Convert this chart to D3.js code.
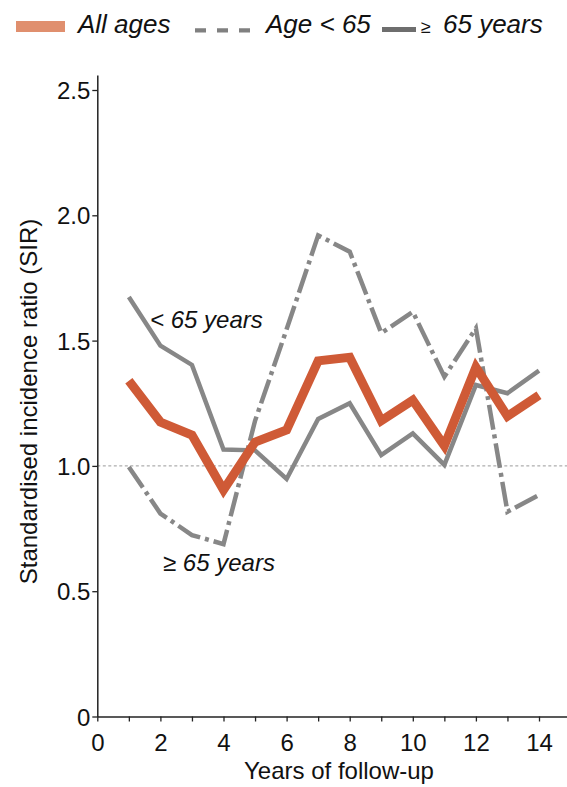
<!DOCTYPE html>
<html>
<head>
<meta charset="utf-8">
<script src="https://cdn.jsdelivr.net/npm/d3@7"></script>
<style>
  html, body { margin: 0; padding: 0; background: #fff; }
  svg { display: block; font-family: "Liberation Sans", Arial, sans-serif; }
</style>
</head>
<body>
<svg id="chart" width="567" height="787"></svg>
<script>
// Data
const years = [1, 2, 3, 4, 5, 6, 7, 8, 9, 10, 11, 12, 13, 14];
const allAges = [1.34, 1.175, 1.123, 0.904, 1.095, 1.143, 1.419, 1.433, 1.18, 1.262, 1.08, 1.394, 1.198, 1.282];
const under65 = [1.674, 1.48, 1.403, 1.065, 1.062, 0.948, 1.187, 1.25, 1.043, 1.13, 1.004, 1.323, 1.29, 1.38];
const over65 = [0.996, 0.81, 0.724, 0.688, 1.18, 1.545, 1.92, 1.855, 1.53, 1.615, 1.356, 1.549, 0.817, 0.884];
const xTicks = [0, 1, 2, 3, 4, 5, 6, 7, 8, 9, 10, 11, 12, 13, 14, 15];
const xLabels = [0, 2, 4, 6, 8, 10, 12, 14];
const yTicks = [0, 0.5, 1.0, 1.5, 2.0, 2.5];
const referenceValue = 1.0;

const svg = d3.select("#chart");
const x = d3.scaleLinear().domain([0, 15]).range([97.3, 97.3 + 15 * 31.55]);
const y = d3.scaleLinear().domain([0, 2.56]).range([716.5, 716.5 - 2.56 * 250.6]);

const axisColor = "#222";

// Reference line
svg.append("line")
  .attr("x1", x(0)).attr("x2", 567)
  .attr("y1", y(referenceValue)).attr("y2", y(referenceValue))
  .attr("stroke", "#9a9a9a").attr("stroke-width", 1)
  .attr("stroke-dasharray", "3,2.5");

// X axis
const xAxis = svg.append("g").attr("transform", `translate(0,${y(0)})`)
  .call(d3.axisBottom(x).tickValues(xTicks).tickSize(5).tickSizeOuter(0)
    .tickFormat(d => xLabels.includes(d) ? d : ""));
xAxis.select(".domain").attr("stroke", axisColor).attr("stroke-width", 1.5);
xAxis.selectAll(".tick line").attr("stroke", axisColor).attr("stroke-width", 1.3);
xAxis.selectAll(".tick text").attr("font-size", 24).attr("fill", "#111")
  .attr("font-family", "Liberation Sans, Arial, sans-serif").attr("dy", null).attr("y", 34);

// Y axis
const yAxis = svg.append("g").attr("transform", `translate(${x(0)},0)`)
  .call(d3.axisLeft(y).tickValues(yTicks).tickSize(5).tickSizeOuter(0)
    .tickFormat(d => d === 0 ? "0" : d3.format(".1f")(d)));
yAxis.select(".domain").attr("stroke", axisColor).attr("stroke-width", 1.5);
yAxis.selectAll(".tick line").attr("stroke", axisColor).attr("stroke-width", 1.3);
yAxis.selectAll(".tick text").attr("font-size", 24).attr("fill", "#111")
  .attr("font-family", "Liberation Sans, Arial, sans-serif").attr("x", -7).attr("dy", "0.36em");

// Lines
const line = d3.line().x((d, i) => x(years[i])).y(d => y(d));

svg.append("path").datum(over65)
  .attr("d", line).attr("fill", "none")
  .attr("stroke", "#878787").attr("stroke-width", 4.5)
  .attr("stroke-dasharray", "25,5,4,5").attr("stroke-linejoin", "miter");

svg.append("path").datum(under65)
  .attr("d", line).attr("fill", "none")
  .attr("stroke", "#878787").attr("stroke-width", 4.5)
  .attr("stroke-linejoin", "miter");

svg.append("path").datum(allAges)
  .attr("d", line).attr("fill", "none")
  .attr("stroke", "#cf5a36").attr("stroke-width", 9)
  .attr("stroke-linejoin", "miter");

// Axis titles
svg.append("text").attr("x", 339).attr("y", 779)
  .attr("text-anchor", "middle").attr("font-size", 24).attr("fill", "#111")
  .text("Years of follow-up");
svg.append("text").attr("transform", "translate(37,401.5) rotate(-90)")
  .attr("text-anchor", "middle").attr("font-size", 24).attr("fill", "#111")
  .text("Standardised incidence ratio (SIR)");

// Annotations
svg.append("text").attr("x", 150).attr("y", 327.5)
  .attr("font-size", 24).attr("font-style", "italic").attr("fill", "#111")
  .text("< 65 years");
svg.append("text").attr("x", 163).attr("y", 571)
  .attr("font-size", 24).attr("font-style", "italic").attr("fill", "#111")
  .text("≥ 65 years");

// Legend
const lg = svg.append("g");
lg.append("rect").attr("x", 16).attr("y", 21).attr("width", 49).attr("height", 11).attr("fill", "#e08f6e");
lg.append("text").attr("x", 78).attr("y", 33).attr("font-size", 26).attr("font-style", "italic").attr("fill", "#111").text("All ages");
lg.append("line").attr("x1", 195).attr("x2", 252).attr("y1", 30.3).attr("y2", 30.3)
  .attr("stroke", "#808080").attr("stroke-width", 4.2).attr("stroke-dasharray", "11,11");
lg.append("text").attr("x", 266).attr("y", 33).attr("font-size", 26).attr("font-style", "italic").attr("fill", "#111").text("Age < 65");
lg.append("line").attr("x1", 382).attr("x2", 416).attr("y1", 29.5).attr("y2", 29.5)
  .attr("stroke", "#6e6e6e").attr("stroke-width", 5);
lg.append("text").attr("x", 421).attr("y", 33).attr("font-size", 18).attr("fill", "#111").text("≥");
lg.append("text").attr("x", 443).attr("y", 33).attr("font-size", 26).attr("font-style", "italic").attr("fill", "#111").text("65 years");
</script>
</body>
</html>
